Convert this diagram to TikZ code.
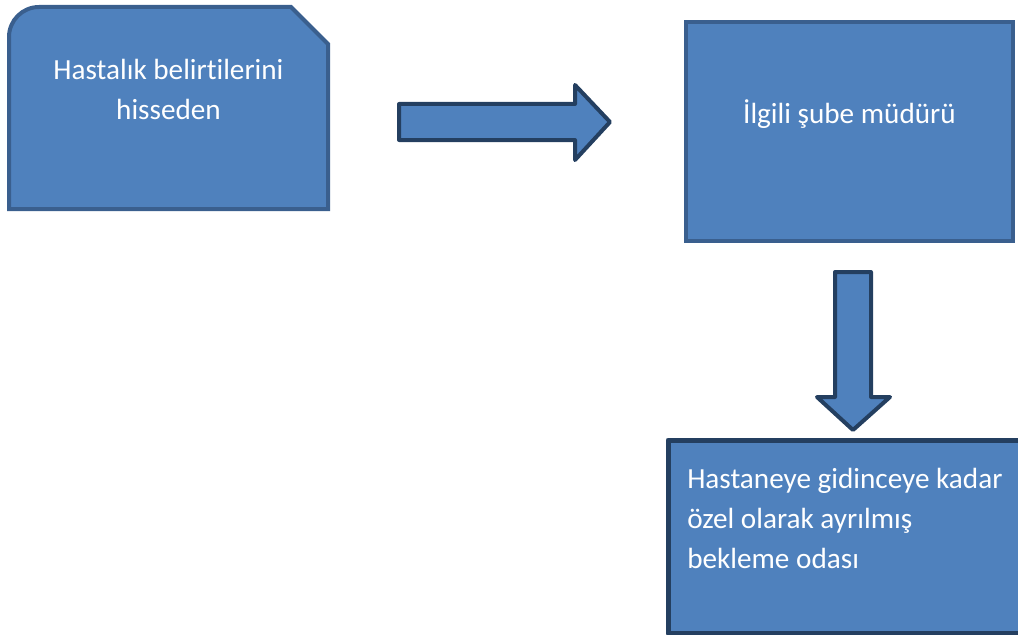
\documentclass[tikz,border=0pt]{standalone}
\usepackage{fontspec}
\setmainfont[Ligatures=NoCommon]{Carlito}
\usetikzlibrary{positioning}
\definecolor{boxfill}{HTML}{4F81BD}
\definecolor{boxline}{HTML}{3A5F8E}
\definecolor{darkline}{HTML}{243F60}

\begin{document}
\begin{tikzpicture}[x=0.75pt, y=0.75pt,
    blk/.style={draw=boxline, fill=boxfill, line width=3pt},
    darkblk/.style={draw=darkline, fill=boxfill, line width=3pt, line join=round},
    txt/.style={text=white, inner sep=0pt, font=\fontsize{21.9pt}{30pt}\selectfont}
]
\useasboundingbox (0,0) rectangle (1018,-635);
\clip (0,0) rectangle (1018,-635);

% first box: rounded top-left, snipped top-right
\draw[blk] (9,-209) -- (9,-37) arc[start angle=180, end angle=90, radius=30]
  -- (291,-7) -- (328,-44) -- (328,-209) -- cycle;
\node[txt, align=center, anchor=base] (symptom) at (168.5,-120) {Hastalık belirtilerini\\hisseden};

% second box
\node[blk, minimum width=245.25pt, minimum height=164.25pt, inner sep=0pt] (manager) at (849.5,-131.5) {};
\node[txt, anchor=base] (managertxt) at (849.5,-123) {İlgili şube müdürü};

% third box
\node[darkblk, line width=3.75pt, anchor=north west, minimum width=300pt, minimum height=144.75pt, inner sep=0pt] (room) at (665.5,-437.5) {};
\node[txt, align=left, anchor=base west] (roomtxt) at (687,-568) {Hastaneye gidinceye kadar\\özel olarak ayrılmış\\bekleme odası};

% block arrows
\draw[darkblk] (399,-104) -- (575,-104) -- (575,-85) -- (610,-122)
  -- (575,-160) -- (575,-140) -- (399,-140) -- cycle;
\draw[darkblk] (835,-272) -- (871,-272) -- (871,-397) -- (890,-397)
  -- (853,-430) -- (817,-397) -- (835,-397) -- cycle;
\end{tikzpicture}
\end{document}
